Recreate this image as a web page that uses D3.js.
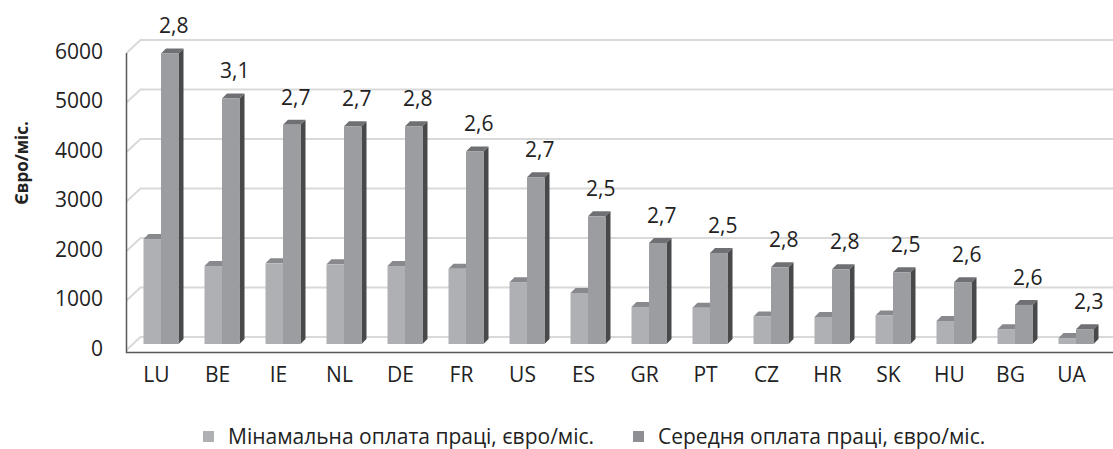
<!DOCTYPE html>
<html>
<head>
<meta charset="utf-8">
<script src="https://cdn.jsdelivr.net/npm/d3@7"></script>
<style>
  body { margin: 0; background: #fff; }
  text { font-family: "Open Sans", sans-serif; fill: #222; }
</style>
</head>
<body>
<div id="chart"></div>
<script>
// chart data
const categories = ["LU", "BE", "IE", "NL", "DE", "FR", "US", "ES", "GR", "PT", "CZ", "HR", "SK", "HU", "BG", "UA"];
const minWage = [2120, 1575, 1630, 1610, 1575, 1520, 1250, 1030, 750, 730, 555, 545, 575, 465, 300, 120];
const avgWage = [5870, 4960, 4430, 4400, 4400, 3890, 3370, 2580, 2040, 1840, 1550, 1510, 1450, 1250, 790, 300];
const ratioLabels = ["2,8", "3,1", "2,7", "2,7", "2,8", "2,6", "2,7", "2,5", "2,7", "2,5", "2,8", "2,8", "2,5", "2,6", "2,6", "2,3"];
const yTicks = [0, 1000, 2000, 3000, 4000, 5000, 6000];
const seriesNames = ["Мінамальна оплата праці, євро/міс.", "Середня оплата праці, євро/міс."];

const svgWidth = 1113, svgHeight = 449;

const svg = d3.select("#chart")
  .append("svg")
  .attr("width", svgWidth)
  .attr("height", svgHeight);

// front plane of the box (axis lines), back wall (gridlines), bars in between
const frontBase = 352, barBase = 344, backBase = 337;
const wallDx = 14;
const plotH = 297;

const y = d3.scaleLinear().domain([0, 6000]).range([0, plotH]);

const x = d3.scaleBand()
  .domain(categories)
  .range([126, 1102])
  .padding(0);

const series = d3.scaleBand()
  .domain(["min", "avg"])
  .range([0, 35]);

// gridlines on back wall, with the slanted piece on the left side wall
const grid = svg.append("g");
yTicks.forEach(function(v) {
  grid.append("path")
    .attr("d", `M126.5,${frontBase - y(v) - 2}L${126.5 + wallDx},${backBase - y(v)}L${svgWidth},${backBase - y(v)}`)
    .attr("fill", "none")
    .attr("stroke", "#d9d9d9")
    .attr("stroke-width", 2);
});

// 3D column helper
const depthX = 5, depthY = 5;
function drawColumn(g, x0, w, top, front, cap, side) {
  const y0 = barBase - y(top);
  if (side) {
    g.append("path")
      .attr("d", `M${x0 + w},${y0}L${x0 + w + depthX},${y0 - depthY}L${x0 + w + depthX},${barBase - depthY}L${x0 + w},${barBase}Z`)
      .attr("fill", side);
  }
  g.append("path")
    .attr("d", `M${x0},${y0}L${x0 + depthX},${y0 - depthY}L${x0 + w + depthX},${y0 - depthY}L${x0 + w},${y0}Z`)
    .attr("fill", cap);
  g.append("rect")
    .attr("x", x0)
    .attr("y", y0)
    .attr("width", w)
    .attr("height", barBase - y0)
    .attr("fill", front);
}

const bars = svg.append("g");
categories.forEach(function(c, i) {
  const x0 = x(c) + x.bandwidth() / 2 - 13;
  const g = bars.append("g");
  drawColumn(g, x0 + series("min"), series.bandwidth(), minWage[i], "#afb0b3", "#88898c", "#77787a");
  drawColumn(g, x0 + series("avg"), series.bandwidth(), avgWage[i], "#9c9da0", "#6f7073", "#48494b");

  svg.append("text")
    .attr("x", x0 + series("avg") + series.bandwidth() / 2 + 4)
    .attr("y", barBase - y(avgWage[i]) - 20)
    .attr("text-anchor", "middle")
    .attr("font-size", "21px")
    .text(ratioLabels[i]);
});

// axis lines
svg.append("path")
  .attr("d", `M126.5,53V${frontBase + 0.5}H${svgWidth}`)
  .attr("fill", "none")
  .attr("stroke", "#595959")
  .attr("stroke-width", 1.5);

// y tick labels
const yFront = d3.scaleLinear().domain([0, 6000]).range([frontBase - 4, frontBase - 4 - plotH]);
const yAxis = svg.append("g")
  .attr("transform", "translate(103,0)")
  .call(d3.axisLeft(yFront).tickValues(yTicks).tickSize(0).tickPadding(0).tickFormat(d3.format("d")));
yAxis.select(".domain").remove();
yAxis.selectAll("text")
  .attr("font-size", "21px")
  .attr("font-family", "Open Sans, sans-serif")
  .attr("fill", "#222")
  .attr("dy", "0.35em");

// category labels
const xAxis = svg.append("g")
  .attr("transform", `translate(0,${frontBase + 15})`)
  .call(d3.axisBottom(x).tickSize(0).tickPadding(0));
xAxis.select(".domain").remove();
xAxis.selectAll("text")
  .attr("font-size", "21px")
  .attr("font-family", "Open Sans, sans-serif")
  .attr("fill", "#222")
  .attr("dy", "0.71em");

// axis title
svg.append("text")
  .attr("transform", "translate(28,163) rotate(-90)")
  .attr("text-anchor", "middle")
  .attr("font-size", "17px")
  .attr("font-weight", "bold")
  .text("Євро/міс.");

// legend
const legendX = [203, 633];
const legendColors = ["#afb0b3", "#8e8f92"];
seriesNames.forEach(function(name, i) {
  svg.append("rect")
    .attr("x", legendX[i])
    .attr("y", 431)
    .attr("width", 11)
    .attr("height", 11)
    .attr("fill", legendColors[i]);
  svg.append("text")
    .attr("x", legendX[i] + 25)
    .attr("y", 444)
    .attr("font-size", "21px")
    .text(name);
});
</script>
</body>
</html>
